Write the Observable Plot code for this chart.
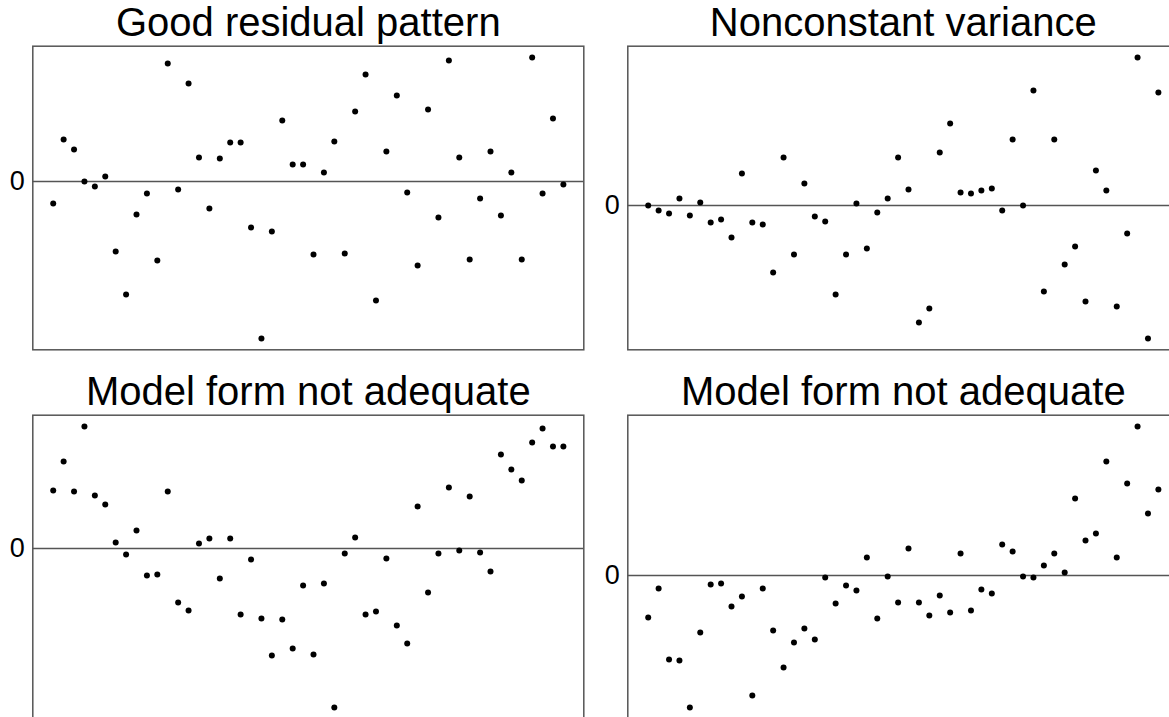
<!DOCTYPE html>
<html>
<head>
<meta charset="utf-8">
<script src="https://cdn.jsdelivr.net/npm/d3@7"></script>
<script src="https://cdn.jsdelivr.net/npm/@observablehq/plot@0.6"></script>
<style>
  html, body { margin: 0; padding: 0; background: #fff; overflow: hidden; }
  #grid { position: relative; width: 1169px; height: 717px; overflow: hidden; background: #fff; }
  #grid > svg, #grid > figure { position: absolute; margin: 0; }
</style>
</head>
<body>
<div id="grid"></div>
<script>
// Residuals, in observation order, for four example fits
const goodResiduals = [
  -0.22, 0.42, 0.32, 0.00, -0.05, 0.05, -0.70, -1.13, -0.33, -0.12,
  -0.79, 1.18, -0.08, 0.98, 0.24, -0.27, 0.23, 0.39, 0.39, -0.46,
  -1.57, -0.50, 0.61, 0.17, 0.17, -0.73, 0.09, 0.40, -0.72, 0.70,
  1.07, -1.19, 0.30, 0.86, -0.11, -0.84, 0.72, -0.36, 1.21, 0.24,
  -0.78, -0.17, 0.30, -0.34, 0.09, -0.78, 1.24, -0.12, 0.63, -0.03
];
const varianceResiduals = [
  0.00, -0.05, -0.08, 0.07, -0.10, 0.03, -0.17, -0.14, -0.32, 0.32,
  -0.17, -0.19, -0.67, 0.48, -0.49, 0.22, -0.11, -0.16, -0.89, -0.49,
  0.02, -0.43, -0.07, 0.07, 0.48, 0.16, -1.17, -1.03, 0.53, 0.82,
  0.13, 0.12, 0.15, 0.17, -0.05, 0.66, 0.00, 1.15, -0.86, 0.66,
  -0.59, -0.41, -0.96, 0.35, 0.15, -1.01, -0.28, 1.48, -1.33, 1.13
];
const curveResidualsA = [
  0.58, 0.87, 0.57, 1.22, 0.53, 0.44, 0.06, -0.06, 0.18, -0.27,
  -0.26, 0.57, -0.54, -0.62, 0.05, 0.10, -0.30, 0.10, -0.66, -0.11,
  -0.70, -1.07, -0.71, -1.00, -0.37, -1.06, -0.35, -1.59, -0.05, 0.11,
  -0.66, -0.63, -0.10, -0.77, -0.95, 0.42, -0.44, -0.05, 0.61, -0.02,
  0.52, -0.04, -0.23, 0.94, 0.79, 0.68, 1.06, 1.20, 1.02, 1.02
];
const curveResidualsB = [
  -0.42, -0.13, -0.84, -0.85, -1.32, -0.57, -0.09, -0.08, -0.31, -0.21,
  -1.20, -0.13, -0.55, -0.92, -0.67, -0.53, -0.64, -0.02, -0.28, -0.10,
  -0.15, 0.18, -0.43, -0.01, -0.27, 0.27, -0.27, -0.40, -0.20, -0.37,
  0.22, -0.35, -0.14, -0.18, 0.31, 0.24, -0.01, -0.02, 0.10, 0.22,
  0.03, 0.77, 0.35, 0.42, 1.14, 0.18, 0.92, 1.49, 0.62, 0.86
];
const panelTitles = [
  "Good residual pattern",
  "Nonconstant variance",
  "Model form not adequate",
  "Model form not adequate"
];
const zeroTick = [0];

const fontFamily = '"Liberation Sans", Arial, Helvetica, sans-serif';
const lineColor = "#555";

// One residual-vs-order panel: dots, a reference line at zero, a box frame
function residualPanel(values, title) {
  const rows = values.map((r, i) => ({obs: i + 1, r}));
  const n = values.length;
  const [lo, hi] = d3.extent(values);
  const yPad = (hi - lo) * 0.04;      // 4% range expansion on each side
  const xPad = (n - 1) * 0.04;
  return Plot.plot({
    width: 600,
    height: 360,
    marginLeft: 32.3,
    marginRight: 16.7,
    marginTop: 45.7,
    marginBottom: 10.7,
    x: {domain: [1 - xPad, n + xPad], axis: null},
    y: {domain: [lo - yPad, hi + yPad], axis: null},
    style: {fontFamily, fontSize: "26px", color: "#000", background: "transparent"},
    marks: [
      Plot.ruleY(zeroTick, {stroke: lineColor, strokeWidth: 1.5}),
      Plot.axisY({
        ticks: zeroTick, tickFormat: (d) => String(d),
        tickSize: 0, tickPadding: 8, label: null, fontSize: 27
      }),
      Plot.dot(rows, {x: "obs", y: "r", r: 3, fill: "#000", stroke: null}),
      Plot.frame({stroke: lineColor, strokeWidth: 1.5}),
      Plot.text([title], {
        frameAnchor: "top", dy: -23.5, lineAnchor: "middle",
        fontSize: 40, fill: "#000"
      })
    ]
  });
}

const series = [goodResiduals, varianceResiduals, curveResidualsA, curveResidualsB];
const offsets = [[0, 0], [594.7, 0], [0, 369.3], [594.7, 369.3]];
const grid = document.getElementById("grid");
series.forEach((values, k) => {
  const chart = residualPanel(values, panelTitles[k]);
  chart.style.left = offsets[k][0] + "px";
  chart.style.top = offsets[k][1] + "px";
  grid.appendChild(chart);
});
</script>
</body>
</html>
